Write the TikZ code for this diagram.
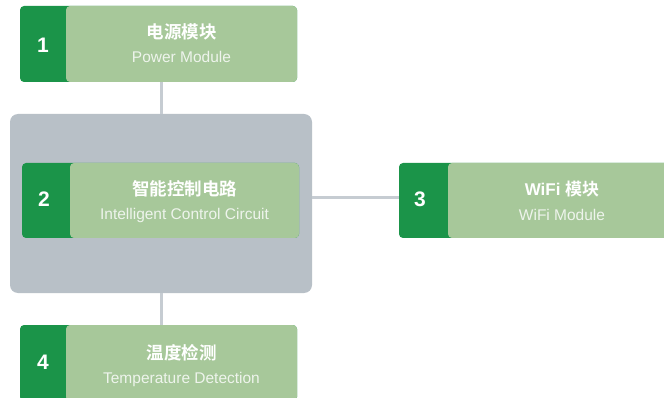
\documentclass[tikz,border=0pt]{standalone}
\usepackage{fontspec}
\setmainfont{Liberation Sans}
\newfontfamily\cjk{Noto Sans CJK SC}[BoldFont={Noto Sans CJK SC Bold}]
\definecolor{darkg}{HTML}{1B9449}
\definecolor{lightg}{HTML}{A7C89A}
\definecolor{grayb}{HTML}{B8C0C7}
\definecolor{conn}{HTML}{C6CCD2}
\definecolor{entxt}{HTML}{EEF4EC}
\tikzset{
  outerbox/.style={fill=darkg, rounded corners=4pt, inner sep=0pt, minimum height=76pt},
  innerbox/.style={fill=lightg, rounded corners=4pt, inner sep=0pt, minimum height=76pt},
  numtxt/.style={text=white, font=\fontsize{21}{21}\selectfont\bfseries, inner sep=0pt},
  cntxt/.style={text=white, font=\cjk\fontsize{17.5}{17.5}\selectfont\bfseries, inner sep=0pt},
  entext/.style={text=entxt, font=\fontsize{15.5}{15.5}\selectfont, inner sep=0pt},
  panel/.style={fill=grayb, rounded corners=8pt, inner sep=0pt},
  link/.style={draw=conn, line width=3pt}
}
\begin{document}
\begin{tikzpicture}[x=1pt,y=-1pt]
\useasboundingbox (0,0) rectangle (664,398);
\fill[white] (0,0) rectangle (664,398);
\begin{scope}
\clip (0,0) rectangle (664,398);
% panel
\node[panel, minimum width=302pt, minimum height=179pt] (g) at (161,203.5) {};
% box 1
\node[outerbox, minimum width=277pt] (b1) at (158.5,44) {};
\node[innerbox, minimum width=231pt] (l1) at (181.5,44) {};
\node[numtxt] (n1) at (43,45) {1};
\node[cntxt] (c1) at (181.5,32) {电源模块};
\node[entext] (e1) at (181.5,57) {Power Module};
% box 2
\node[outerbox, minimum width=277pt, minimum height=75pt] (b2) at (160.5,200.5) {};
\node[innerbox, minimum width=229pt, minimum height=75pt] (l2) at (184.5,200.5) {};
\node[numtxt] (n2) at (44,199) {2};
\node[cntxt] (c2) at (184.5,189) {智能控制电路};
\node[entext] (e2) at (184.5,215) {Intelligent Control Circuit};
% box 3
\node[outerbox, minimum width=277pt, minimum height=75pt] (b3) at (537.5,200.5) {};
\node[innerbox, minimum width=228pt, minimum height=75pt] (l3) at (562,200.5) {};
\node[numtxt] (n3) at (420,199) {3};
\node[text=white, inner sep=0pt] (c3) at (562,189) {\fontsize{17}{17}\selectfont\bfseries WiFi {\cjk 模块}};
\node[entext] (e3) at (562,215) {WiFi Module};
% box 4
\node[outerbox, minimum width=277pt] (b4) at (158.5,363) {};
\node[innerbox, minimum width=231pt] (l4) at (181.5,363) {};
\node[numtxt] (n4) at (43,362) {4};
\node[cntxt] (c4) at (181.5,353) {温度检测};
\node[entext] (e4) at (181.5,379) {Temperature Detection};
% connectors
\draw[link] (b1.south -| g.north) -- (g.north);
\draw[link] (g.south) -- (b4.north -| g.south);
\draw[link] (g.east |- 0,198) coordinate (h1) -- (b3.west |- h1);
\end{scope}
\end{tikzpicture}
\end{document}
